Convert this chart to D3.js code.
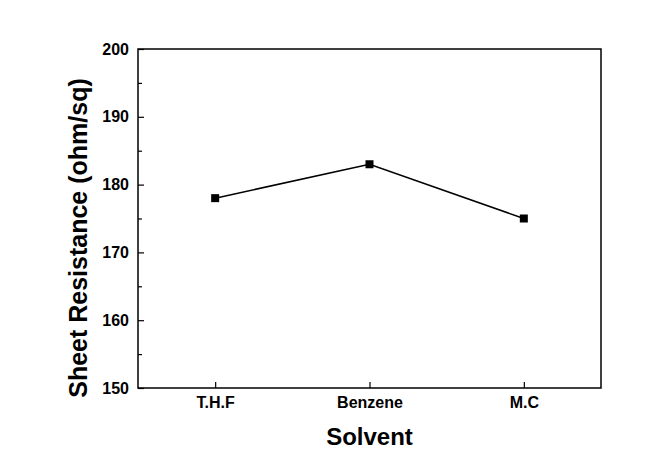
<!DOCTYPE html>
<html><head><meta charset="utf-8">
<script src="https://cdn.jsdelivr.net/npm/d3@7"></script>
<style>body{margin:0;background:#fff}svg{display:block}text{font-family:"Liberation Sans",Arial,sans-serif;font-weight:bold;fill:#000}</style>
</head><body>
<svg id="c" width="661" height="463"></svg>
<script>
const categories = ["T.H.F", "Benzene", "M.C"];
const values = [178, 183, 175];
const yTicks = [150, 160, 170, 180, 190, 200];
const yMinorTicks = [155, 165, 175, 185, 195];

const svg = d3.select("#c");
const L = 138, R = 601, T = 49, B = 388;
const x = d3.scalePoint().domain(categories).range([L, R]).padding(0.5);
const y = d3.scaleLinear().domain([150, 200]).range([B, T]);

// frame
svg.append("rect").attr("x", L).attr("y", T).attr("width", R - L).attr("height", B - T)
  .attr("fill", "none").attr("stroke", "#000").attr("stroke-width", 1.5);

// y axis
const yAxis = svg.append("g").attr("transform", `translate(${L},0)`)
  .call(d3.axisLeft(y).tickValues(yTicks).tickSize(-6).tickPadding(9).tickFormat(d3.format("d")));
yAxis.select(".domain").remove();
yAxis.selectAll("line").attr("stroke-width", 1.2);
yAxis.selectAll("text").attr("font-size", 16);
const yMinor = svg.append("g").attr("transform", `translate(${L},0)`)
  .call(d3.axisLeft(y).tickValues(yMinorTicks).tickSize(-4).tickFormat(""));
yMinor.select(".domain").remove();
yMinor.selectAll("line").attr("stroke-width", 1.2);

// x axis
const xAxis = svg.append("g").attr("transform", `translate(0,${B})`)
  .call(d3.axisBottom(x).tickSize(-6).tickPadding(9));
xAxis.select(".domain").remove();
xAxis.selectAll("line").attr("stroke-width", 1.2);
xAxis.selectAll("text").attr("font-size", 16);

// line
const line = d3.line().x((d, i) => x(categories[i])).y(d => y(d));
svg.append("path").datum(values).attr("d", line).attr("fill", "none").attr("stroke", "#000").attr("stroke-width", 1.5);
svg.selectAll(".pt").data(values).enter().append("rect")
  .attr("x", (d, i) => x(categories[i]) - 4).attr("y", d => y(d) - 4)
  .attr("width", 8).attr("height", 8).attr("fill", "#000");

// titles
svg.append("text").attr("x", (L + R) / 2).attr("y", 445).attr("text-anchor", "middle")
  .attr("font-size", 24).text("Solvent");
svg.append("text").attr("transform", `translate(87,238) rotate(-90)`)
  .attr("text-anchor", "middle").attr("font-size", 25).text("Sheet Resistance (ohm/sq)");
</script>
</body></html>
